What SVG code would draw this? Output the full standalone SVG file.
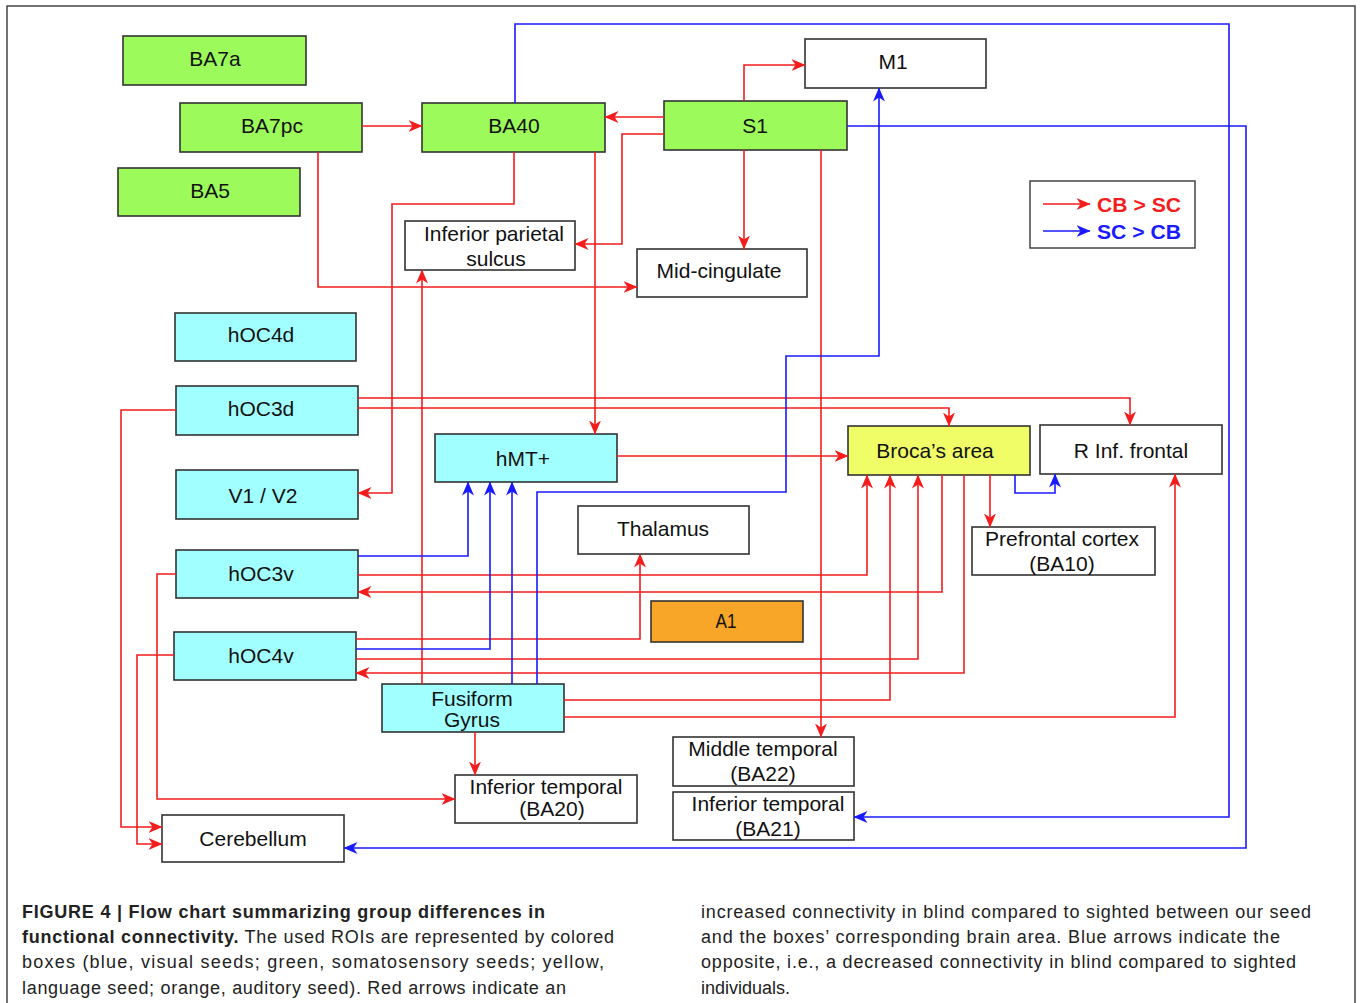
<svg xmlns="http://www.w3.org/2000/svg" width="1360" height="1003" viewBox="0 0 1360 1003">
<style>
.box{stroke:#333;stroke-width:1.6}
.g{fill:#9cfb5a}.c{fill:#a2ffff}.w{fill:#fff}.y{fill:#f0fd66}.o{fill:#f8a627}
.t{font-family:"Liberation Sans",Arial,sans-serif;font-size:21px;fill:#111;text-anchor:middle}
.r{fill:none;stroke:#f41d1d;stroke-width:1.6;marker-end:url(#ar)}
.b{fill:none;stroke:#1a1aff;stroke-width:1.6;marker-end:url(#ab)}
.cap{font-family:"Liberation Sans",Arial,sans-serif;font-size:18px;fill:#222}
.lg{font-family:"Liberation Sans",Arial,sans-serif;font-size:21px;font-weight:bold}
</style>
<defs>
<marker id="ar" markerUnits="userSpaceOnUse" markerWidth="14" markerHeight="12" viewBox="0 0 14 12" refX="13.5" refY="6" orient="auto"><path d="M0,0 L14,6 L0,12 L4,6 z" fill="#f41d1d"/></marker>
<marker id="ab" markerUnits="userSpaceOnUse" markerWidth="14" markerHeight="12" viewBox="0 0 14 12" refX="13.5" refY="6" orient="auto"><path d="M0,0 L14,6 L0,12 L4,6 z" fill="#1a1aff"/></marker>
</defs>
<rect width="1360" height="1003" fill="#fff"/>
<path d="M7,1010 V6 H1355 V1010" fill="none" stroke="#444" stroke-width="1.5"/>

<g id="BA7a"><rect class="box g" x="123" y="36" width="183" height="49"/><text class="t" x="215" y="65.5">BA7a</text></g>
<g id="BA7pc"><rect class="box g" x="180" y="103" width="182" height="49"/><text class="t" x="272" y="132.5">BA7pc</text></g>
<g id="BA5"><rect class="box g" x="118" y="168" width="182" height="48"/><text class="t" x="210" y="197.5">BA5</text></g>
<g id="BA40"><rect class="box g" x="422" y="103" width="183" height="49"/><text class="t" x="514" y="132.5">BA40</text></g>
<g id="S1"><rect class="box g" x="664" y="101" width="183" height="49"/><text class="t" x="755" y="132.5">S1</text></g>
<g id="M1"><rect class="box w" x="805" y="39" width="181" height="49"/><text class="t" x="893" y="69">M1</text></g>
<g id="IPS"><rect class="box w" x="405" y="221" width="170" height="49"/><text class="t" x="494" y="240.5">Inferior parietal</text><text class="t" x="496" y="265.5">sulcus</text></g>
<g id="MidCingulate"><rect class="box w" x="637" y="249" width="170" height="48"/><text class="t" x="719" y="277.5">Mid-cingulate</text></g>
<g id="hOC4d"><rect class="box c" x="175" y="313" width="181" height="48"/><text class="t" x="261" y="341.5">hOC4d</text></g>
<g id="hOC3d"><rect class="box c" x="176" y="386" width="182" height="49"/><text class="t" x="261" y="415.5">hOC3d</text></g>
<g id="V1V2"><rect class="box c" x="176" y="470" width="182" height="49"/><text class="t" x="263" y="502.5">V1 / V2</text></g>
<g id="hMT"><rect class="box c" x="435" y="434" width="182" height="48"/><text class="t" x="523" y="465.5">hMT+</text></g>
<g id="Broca"><rect class="box y" x="848" y="426" width="182" height="49"/><text class="t" x="935" y="457.5">Broca’s area</text></g>
<g id="RInfFrontal"><rect class="box w" x="1040" y="425" width="182" height="49"/><text class="t" x="1131" y="457.5">R Inf. frontal</text></g>
<g id="Thalamus"><rect class="box w" x="578" y="506" width="171" height="48"/><text class="t" x="663" y="535.5">Thalamus</text></g>
<g id="Prefrontal"><rect class="box w" x="972" y="527" width="183" height="48"/><text class="t" x="1062" y="545.5">Prefrontal cortex</text><text class="t" x="1062" y="571">(BA10)</text></g>
<g id="hOC3v"><rect class="box c" x="176" y="550" width="182" height="48"/><text class="t" x="261" y="580.5">hOC3v</text></g>
<g id="A1"><rect class="box o" x="651" y="601" width="152" height="41"/><text class="t" x="726" y="627.5" textLength="21" lengthAdjust="spacingAndGlyphs">A1</text></g>
<g id="hOC4v"><rect class="box c" x="174" y="632" width="182" height="48"/><text class="t" x="261" y="662.5">hOC4v</text></g>
<g id="Fusiform"><rect class="box c" x="382" y="684" width="182" height="48"/><text class="t" x="472" y="705.5">Fusiform</text><text class="t" x="472" y="726.5">Gyrus</text></g>
<g id="MidTemporal"><rect class="box w" x="673" y="737" width="181" height="49"/><text class="t" x="763" y="755.5">Middle temporal</text><text class="t" x="763" y="780.5">(BA22)</text></g>
<g id="InfTemporal20"><rect class="box w" x="455" y="775" width="182" height="48"/><text class="t" x="546" y="794">Inferior temporal</text><text class="t" x="552" y="816" font-size="20">(BA20)</text></g>
<g id="InfTemporal21"><rect class="box w" x="673" y="792" width="181" height="48"/><text class="t" x="768" y="810.5">Inferior temporal</text><text class="t" x="768" y="835.5">(BA21)</text></g>
<g id="Cerebellum"><rect class="box w" x="162" y="815" width="182" height="47"/><text class="t" x="253" y="845.5">Cerebellum</text></g>

<g id="legend">
<rect x="1030" y="181" width="165" height="67" fill="#fff" stroke="#444" stroke-width="1.5"/>
<path class="r" d="M1043,204 H1090"/>
<path class="b" d="M1043,231 H1090"/>
<text class="lg" x="1097" y="211.5" fill="#f41d1d" textLength="84" lengthAdjust="spacingAndGlyphs">CB &gt; SC</text>
<text class="lg" x="1097" y="238.5" fill="#1a1aff" textLength="84" lengthAdjust="spacingAndGlyphs">SC &gt; CB</text>
</g>

<g id="connectors">
<path class="r" d="M362,126 H422"/>
<path class="r" d="M664,117 H605"/>
<path class="r" d="M664,134 H622 V244 H575"/>
<path class="r" d="M744,101 V65 H805"/>
<path class="r" d="M744,150 V249"/>
<path class="r" d="M821,150 V737"/>
<path class="r" d="M318,152 V287 H637"/>
<path class="r" d="M514,152 V204 H392 V493 H358"/>
<path class="r" d="M595,152 V434"/>
<path class="r" d="M422,684 V270"/>
<path class="r" d="M358,398 H1130 V425"/>
<path class="r" d="M358,408 H949 V426"/>
<path class="r" d="M176,410 H121 V827 H162"/>
<path class="r" d="M617,456 H848"/>
<path class="r" d="M990,475 V527"/>
<path class="r" d="M358,575 H867 V475"/>
<path class="r" d="M942,475 V592 H358"/>
<path class="r" d="M176,574 H157 V799 H455"/>
<path class="r" d="M356,639 H640 V554"/>
<path class="r" d="M356,659 H918 V475"/>
<path class="r" d="M964,475 V673 H356"/>
<path class="r" d="M174,655 H137 V844 H162"/>
<path class="r" d="M564,700 H890 V475"/>
<path class="r" d="M564,717 H1175 V474"/>
<path class="r" d="M475,732 V775"/>
<path class="b" d="M515,103 V24 H1229 V817 H854"/>
<path class="b" d="M847,126 H1246 V848 H344"/>
<path class="b" d="M358,556 H468 V482"/>
<path class="b" d="M356,649 H490 V482"/>
<path class="b" d="M512,684 V482"/>
<path class="b" d="M537,684 V492 H786 V356 H879 V88"/>
<path class="b" d="M1015,475 V493 H1055 V474"/>
</g>

<g id="caption">
<text class="cap" x="22" y="918" font-weight="bold" textLength="523" lengthAdjust="spacing">FIGURE 4 | Flow chart summarizing group differences in</text>
<text class="cap" x="22" y="943" textLength="592" lengthAdjust="spacing"><tspan font-weight="bold">functional connectivity.</tspan> The used ROIs are represented by colored</text>
<text class="cap" x="22" y="968" textLength="582" lengthAdjust="spacing">boxes (blue, visual seeds; green, somatosensory seeds; yellow,</text>
<text class="cap" x="22" y="994" textLength="544" lengthAdjust="spacing">language seed; orange, auditory seed). Red arrows indicate an</text>
<text class="cap" x="701" y="918" textLength="610" lengthAdjust="spacing">increased connectivity in blind compared to sighted between our seed</text>
<text class="cap" x="701" y="943" textLength="579" lengthAdjust="spacing">and the boxes’ corresponding brain area. Blue arrows indicate the</text>
<text class="cap" x="701" y="968" textLength="595" lengthAdjust="spacing">opposite, i.e., a decreased connectivity in blind compared to sighted</text>
<text class="cap" x="701" y="994">individuals.</text>
</g>
</svg>
